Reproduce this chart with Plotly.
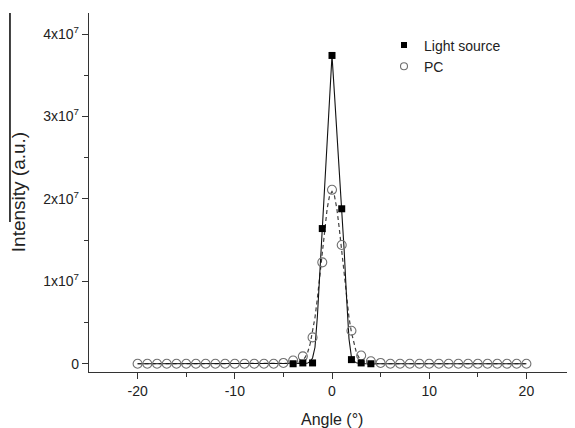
import plotly.graph_objects as go

# ---- data ----
angle_pts = list(range(-20, 21))
pc_vals = [0, 0, 0, 0, 0, 0, 0, 0, 0, 0, 0, 0, 0, 0, 0,
           0.01e7, 0.04e7, 0.09e7, 0.32e7, 1.23e7, 2.11e7, 1.44e7, 0.40e7, 0.10e7, 0.03e7, 0.01e7,
           0, 0, 0, 0, 0, 0, 0, 0, 0, 0, 0, 0, 0, 0, 0]

ls_x = [-4, -3, -2, -1, 0, 1, 2, 3, 4]
ls_vals = [0.0, 0.01e7, 0.01e7, 1.64e7, 3.74e7, 1.88e7, 0.05e7, 0.01e7, 0.0]

fit_x = [-20, -15, -10, -5, -4, -3.75, -3.5, -3.25, -3, -2.75, -2.5, -2.25, -2, -1.75, -1.5, -1.25,
         -1, -0.75, -0.5, -0.25, 0, 0.25, 0.5, 0.75, 1, 1.25, 1.5, 1.75, 2, 2.25, 2.5, 2.75, 3,
         3.25, 3.5, 3.75, 4, 5, 10, 15, 20]
fit_ls = [0, 0, 0, 0, 0, 0, 0, 0.001e7, 0.002e7, 0.004e7, 0.01e7, 0.025e7, 0.07e7, 0.2e7, 0.58e7, 1.12e7,
          1.64e7, 2.18e7, 2.72e7, 3.24e7, 3.74e7, 3.28e7, 2.82e7, 2.36e7, 1.88e7, 1.38e7, 0.8e7, 0.3e7,
          0.08e7, 0.03e7, 0.012e7, 0.005e7, 0.002e7, 0.001e7, 0, 0, 0, 0, 0, 0, 0]
fit_pc = [0, 0, 0, 0, 0.002e7, 0.005e7, 0.011e7, 0.023e7, 0.044e7, 0.08e7, 0.14e7, 0.24e7, 0.38e7, 0.56e7,
          0.80e7, 1.07e7, 1.36e7, 1.64e7, 1.88e7, 2.04e7, 2.09e7, 2.04e7, 1.88e7, 1.64e7, 1.36e7, 1.07e7,
          0.80e7, 0.56e7, 0.38e7, 0.24e7, 0.14e7, 0.08e7, 0.044e7, 0.023e7, 0.011e7, 0.005e7, 0.002e7,
          0, 0, 0, 0]

x_ticks = [-20, -10, 0, 10, 20]
x_minor = [-15, -5, 5, 15]
y_ticks = [0, 1e7, 2e7, 3e7, 4e7]
y_ticktext = ["0", "1x10<sup>7</sup>", "2x10<sup>7</sup>", "3x10<sup>7</sup>", "4x10<sup>7</sup>"]
y_minor = [0.5e7, 1.5e7, 2.5e7, 3.5e7]

FONT = "Liberation Sans, Arial, sans-serif"

fig = go.Figure()
fig.add_trace(go.Scatter(x=fit_x, y=fit_pc, mode="lines", showlegend=False,
                         line=dict(color="#404040", width=1.2, dash="4px,3px")))
fig.add_trace(go.Scatter(x=fit_x, y=fit_ls, mode="lines", showlegend=False,
                         line=dict(color="#111111", width=1.1)))
fig.add_trace(go.Scatter(x=angle_pts, y=pc_vals, mode="markers", showlegend=False,
                         marker=dict(symbol="circle-open", size=9, color="#707070",
                                     line=dict(width=1.1, color="#707070"))))
fig.add_trace(go.Scatter(x=ls_x, y=ls_vals, mode="markers", showlegend=False,
                         marker=dict(symbol="square", size=7, color="#000000")))
# legend entries
fig.add_trace(go.Scatter(x=[None], y=[None], mode="markers", name="Light source",
                         marker=dict(symbol="square", size=6, color="#000000")))
fig.add_trace(go.Scatter(x=[None], y=[None], mode="markers", name="PC",
                         marker=dict(symbol="circle-open", size=7, color="#707070",
                                     line=dict(width=1.1, color="#707070"))))

axis_common = dict(showline=True, linecolor="#333333", linewidth=1.3, ticks="outside",
                   ticklen=6, tickwidth=1.2, tickcolor="#333333", showgrid=False,
                   zeroline=False, tickfont=dict(family=FONT, size=14, color="#222222"))

fig.update_xaxes(range=[-25, 25], tickmode="array", tickvals=x_ticks,
                 ticktext=[str(v) for v in x_ticks],
                 minor=dict(tickmode="array", tickvals=x_minor, ticks="outside", ticklen=4,
                            tickwidth=1.2, tickcolor="#333333"),
                 **axis_common)
fig.update_yaxes(range=[-1.0e6, 4.255e7], tickmode="array", tickvals=y_ticks, ticktext=y_ticktext,
                 minor=dict(tickmode="array", tickvals=y_minor, ticks="outside", ticklen=4,
                            tickwidth=1.2, tickcolor="#333333"),
                 **axis_common)

# page body has an 8px margin, so the figure is drawn 8px smaller and offset
fig.update_layout(
    width=567, height=420,
    margin=dict(l=81, r=0, t=5, b=56),
    plot_bgcolor="white", paper_bgcolor="white",
    font=dict(family=FONT, color="#222222"),
    legend=dict(x=0.607, y=0.954, xanchor="left", yanchor="top",
                font=dict(family=FONT, size=14, color="#222222"),
                bgcolor="rgba(0,0,0,0)", tracegroupgap=0),
    annotations=[
        dict(text="Intensity (a.u.)", xref="paper", yref="paper", x=-0.146, y=0.501,
             xanchor="center", yanchor="middle", textangle=-90, showarrow=False,
             font=dict(family=FONT, size=19, color="#222222")),
        dict(text="Angle (°)", xref="paper", yref="paper", x=0.5, y=-0.131,
             xanchor="center", yanchor="middle", showarrow=False,
             font=dict(family=FONT, size=16, color="#222222")),
    ],
    shapes=[dict(type="line", xref="paper", yref="paper", x0=-0.1626, x1=-0.1626,
                 y0=0.418, y1=1.0, line=dict(color="black", width=1.5))],
)

fig.write_html("out.html")
